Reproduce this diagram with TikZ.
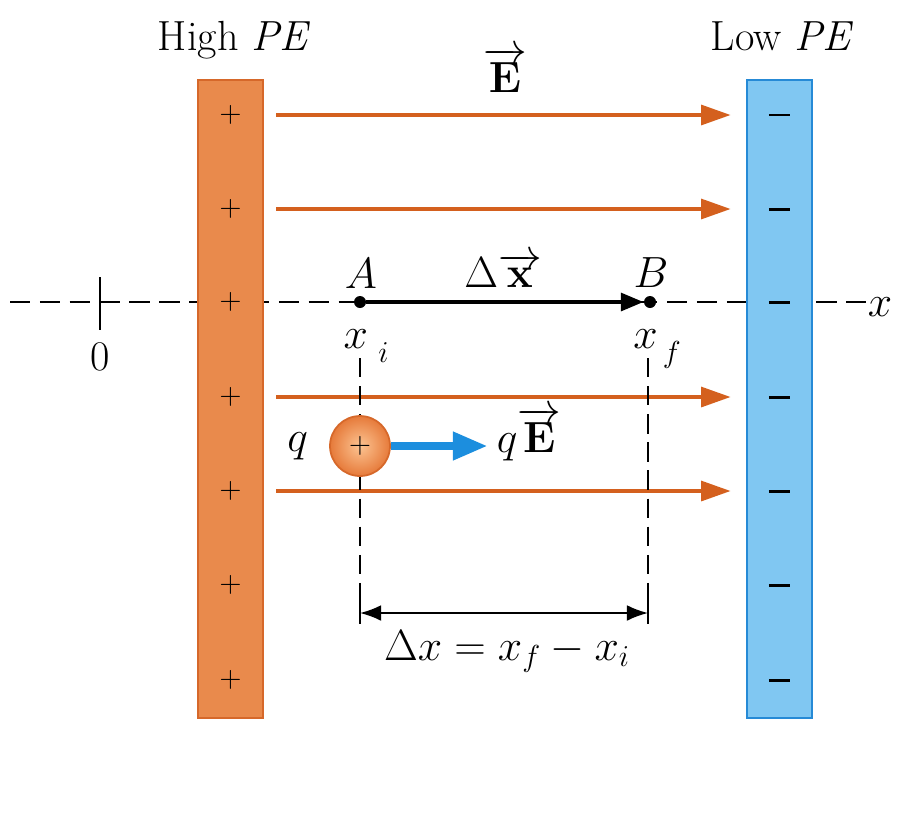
\documentclass[tikz,border=0pt]{standalone}
\usetikzlibrary{arrows.meta,positioning}
\definecolor{plateorange}{RGB}{233,138,76}
\definecolor{plateedge}{RGB}{214,104,42}
\definecolor{fieldorange}{RGB}{212,96,30}
\definecolor{plateblue}{RGB}{128,199,242}
\definecolor{blueedge}{RGB}{38,138,214}
\definecolor{forceblue}{RGB}{28,142,222}
\definecolor{ballin}{RGB}{252,196,146}
\definecolor{ballout}{RGB}{230,122,58}

\begin{document}
\begin{tikzpicture}[x=0.02cm,y=-0.02cm,font=\fontsize{24}{29}\selectfont,
  plate/.style={draw,line width=1pt,minimum width=1.3cm,minimum height=12.76cm,inner sep=0pt},
  sign/.style={font=\fontsize{17}{20}\selectfont},
  field/.style={fieldorange,line width=2.8pt,-{Triangle[length=17pt,width=11pt]}},
  axis/.style={line width=1.1pt,dash pattern=on 11.5pt off 5.5pt},
  guide/.style={line width=1.1pt,dash pattern=on 11pt off 5pt},
  dot/.style={circle,fill=black,minimum size=0.24cm,inner sep=0pt},
  disp/.style={line width=2.5pt,-{Triangle[length=13pt,width=10pt]}},
  force/.style={forceblue,line width=5pt,-{Triangle[length=20pt,width=15pt]}},
  dim/.style={line width=1.1pt,{Latex[length=12pt,width=9pt]}-{Latex[length=12pt,width=9pt]}},
  charge/.style={circle,draw=plateedge,line width=1pt,minimum size=1.2cm,inner sep=0pt,
    shading=radial,inner color=ballin,outer color=ballout,font=\fontsize{17}{20}\selectfont}]
\useasboundingbox (0,0) rectangle (915,812);

\coordinate (axl) at (10,302);
\coordinate (axr) at (866,302);
\draw[axis] (axl) -- (axr);
\node[anchor=base] (xlbl) at (880,316) {$x$};
\coordinate (zero) at (100,302);
\draw[line width=1.2pt] (zero) ++(0,-25) -- ++(0,53);
\node[anchor=base] (zlbl) at (100,370) {0};

\node[plate,fill=plateorange,draw=plateedge] (high) at (230.5,399) {};
\node[plate,fill=plateblue,draw=blueedge] (low) at (779.5,399) {};
\node[anchor=base] (hilbl) at (234,50) {High \textit{PE}};
\node[anchor=base] (lolbl) at (782,50) {Low \textit{PE}};
\foreach \y in {115,209,302,397,491,585,680} {
  \node[sign] at (230.5,\y) {$+$};
  \node[sign] at (779.5,\y) {\rule{12pt}{1.7pt}};
}

\foreach \y [count=\i] in {115,209,397,491} {
  \coordinate (fs\i) at (276,\y);
  \coordinate (fe\i) at (731,\y);
  \draw[field] (fs\i) -- (fe\i);
}
\node[anchor=base] (Evec) at (505,92) {$\overrightarrow{\mathbf{E}}$};

\coordinate (gi1) at (360,358);
\coordinate (gi2) at (360,624);
\coordinate (gf1) at (648,358);
\coordinate (gf2) at (648,624);
\draw[guide] (gi1) -- (gi2);
\draw[guide] (gf1) -- (gf2);

\node[dot] (A) at (360,302) {};
\node[dot] (B) at (650,302) {};
\draw[disp] (A) -- (B);
\node[anchor=base] (Albl) at (361,288) {$A$};
\node[anchor=base] (Blbl) at (651,287) {$B$};
\node[anchor=base] (dxlbl) at (503,287) {$\Delta\overrightarrow{\mathbf{x}}$};
\node[anchor=base] (xi) at (366,348) {$x$\hspace{6pt}\raisebox{-8pt}{$\scriptstyle i$}};
\node[anchor=base] (xf) at (657,348) {$x$\hspace{3pt}\raisebox{-8pt}{$\scriptstyle f$}};

\node[charge] (q) at (360,446) {$+$};
\node[left=0.3cm of q] (qlbl) {$q$};
\coordinate (qtip) at (488,446);
\draw[force] (q) -- (qtip);
\node[anchor=base] (qElbl) at (529,452) {$q\overrightarrow{\mathbf{E}}$};

\coordinate (dl) at (360,613);
\coordinate (dr) at (648,613);
\draw[dim] (dl) -- (dr);
\draw[line width=1.1pt] (dl) ++(0,-11) -- ++(0,22);
\draw[line width=1.1pt] (dr) ++(0,-11) -- ++(0,22);
\node[anchor=base] (dxeq) at (507,660) {$\Delta x = x_f - x_i$};

\end{tikzpicture}
\end{document}
